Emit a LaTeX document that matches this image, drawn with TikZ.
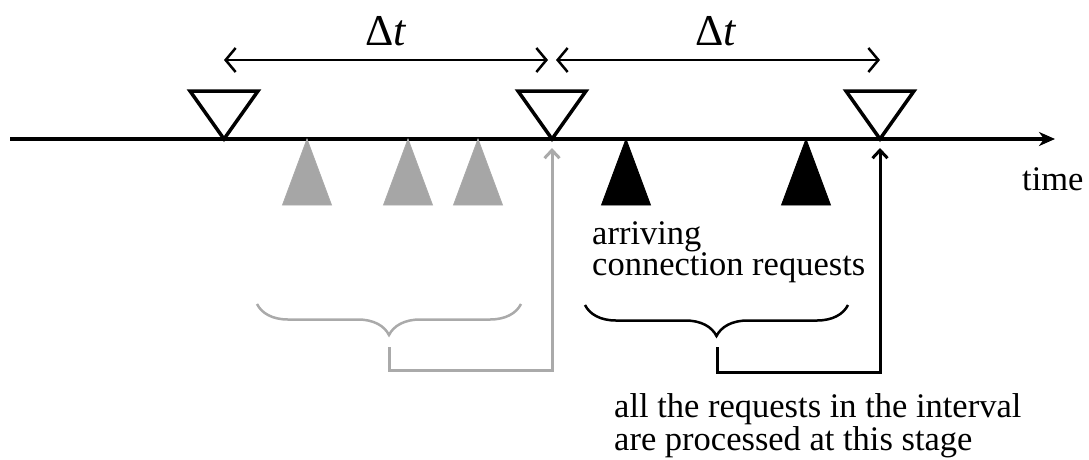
\documentclass[tikz,border=0pt]{standalone}
\usepackage{fontspec}
\setmainfont{Liberation Serif}
\usetikzlibrary{arrows.meta,decorations.pathreplacing}

\definecolor{oldfill}{HTML}{A6A6A6}
\definecolor{oldline}{HTML}{AAAAAA}

\begin{document}
\begin{tikzpicture}[
    x=1pt, y=-1pt,
    every node/.style={font=\fontsize{34.5}{31}\selectfont, inner sep=0pt},
    axis/.style={
        line width=3.5pt,
        -{Stealth[length=16pt,width=14pt,inset=5pt]}
    },
    span/.style={
        line width=2.5pt,
        {Straight Barb[length=10pt,width=24pt]}-{Straight Barb[length=10pt,width=24pt]}
    },
    stage/.style={
        draw, line width=3.5pt, line join=miter, fill=white
    },
    oldreq/.style={
        draw=oldline, fill=oldfill, line width=0.8pt
    },
    newreq/.style={
        draw, fill=black, line width=0.8pt
    },
    bracket/.style={
        decorate,
        decoration={brace, mirror, amplitude=31pt},
        line width=2.5pt
    },
    feed/.style={
        line width=3pt,
        -{Straight Barb[length=8pt,width=15pt]}
    },
    dt/.style={
        font=\fontsize{44}{44}\selectfont, anchor=base
    }
]

\useasboundingbox (0,0) rectangle (1089,459);

\coordinate (start) at (10,139);
\coordinate (end)   at (1055,139);

\coordinate (s1) at (224,139);
\coordinate (s2) at (552,139);
\coordinate (s3) at (880,139);


\draw[axis] (start) -- (end);
\node[anchor=base west] (time) at (1022,190) {time};


\foreach \x in {307,408,478}
    \draw[oldreq] (\x,139) -- ++(-24.5,66) -- ++(49,0) -- cycle;

\foreach \x in {626,806}
    \draw[newreq] (\x,139) -- ++(-24.5,66) -- ++(49,0) -- cycle;


\foreach \s in {s1,s2,s3}
    \draw[stage] (\s) -- ++(-34,-48) -- ++(68,0) -- cycle;


\draw[span] ([yshift=79pt]s1) -- ([xshift=-4pt,yshift=79pt]s2);
\draw[span] ([xshift=4pt,yshift=79pt]s2) -- ([yshift=79pt]s3);

\node[dt] (dt1) at (386,45) {Δ\textit{t}};
\node[dt] (dt2) at (716,45) {Δ\textit{t}};


\node[anchor=base west, align=left] (arr) at (592,275) {arriving\\connection requests};


\coordinate (ob1) at (257,304);
\coordinate (ob2) at (521,304);
\coordinate (otip) at (389,347);
\coordinate (obot) at (389,370);

\draw[bracket, draw=oldline] (ob1) -- (ob2);
\draw[feed, draw=oldline] (otip) -- (obot) -| ([yshift=-9pt]s2);


\coordinate (nb1) at (585,305);
\coordinate (nb2) at (848,305);
\coordinate (ntip) at (717,347);
\coordinate (nbot) at (717,372);

\draw[bracket] (nb1) -- (nb2);
\draw[feed] (ntip) -- (nbot) -| ([yshift=-9pt]s3);


\node[anchor=base west, align=left] (note) at (614,450)
    {all the requests in the interval\\are processed at this stage};

\end{tikzpicture}
\end{document}
